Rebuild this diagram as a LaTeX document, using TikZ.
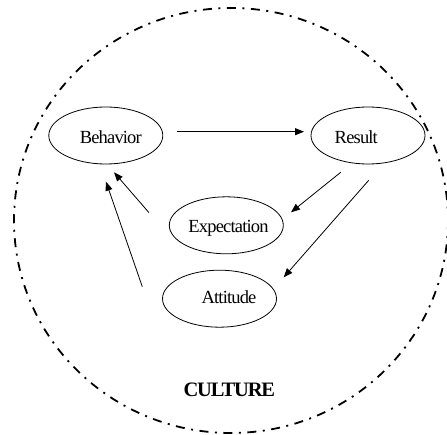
\documentclass[tikz,border=0pt]{standalone}
\usepackage{fontspec}
\setmainfont{Liberation Serif}
\usetikzlibrary{shapes.geometric,arrows.meta,calc}
\begin{document}
\begin{tikzpicture}[x=1bp,y=-1bp,
  ell/.style={draw,ellipse,line width=0.8bp,minimum width=114bp,minimum height=57bp,inner sep=0pt},
  lbl/.style={font=\fontsize{18.5bp}{22bp}\selectfont\addfontfeature{LetterSpace=-4.5},inner sep=0pt},
  arr/.style={line width=0.8bp,-{Triangle[length=9bp,width=7bp]}},
  cult/.style={draw,line width=1.8bp,dash pattern=on 9bp off 6.5bp on 2bp off 6.5bp}]
\useasboundingbox (0,0) rectangle (447,435);
\draw[cult] (231,220.5) ellipse [x radius=217, y radius=212.5];
\node[ell] (beh) at (105.8,135.5) {};
\node[ell] (res) at (368,135.5) {};
\node[ell] (exp) at (226.3,225.3) {};
\node[ell] (att) at (219.5,298.7) {};
\node[lbl] (behl) at ([shift={(5,1.2)}]beh.center) {Behavior};
\node[lbl] (resl) at ([shift={(-11.7,1.2)}]res.center) {Result};
\node[lbl] (expl) at ([shift={(2.2,3)}]exp.center) {Expectation};
\node[lbl] (attl) at ([shift={(9.5,-2)}]att.center) {Attitude};
\node[font=\fontsize{20.5bp}{24bp}\selectfont\bfseries\addfontfeature{LetterSpace=-5.5},inner sep=0pt] (culture) at (229.3,390) {CULTURE};
\draw[arr] ([shift={(70.9,-3.8)}]beh.center) -- ([shift={(-64,-3.8)}]res.center);
\draw[arr] ([shift={(-27.3,36.8)}]res.center) -- ([shift={(64.7,-13)}]exp.center);
\draw[arr] ([shift={(0.7,44.8)}]res.center) -- ([shift={(64.2,-21.4)}]att.center);
\draw[arr] ([shift={(-77.3,-12.6)}]exp.center) -- ([shift={(8.2,36.8)}]beh.center);
\draw[arr] ([shift={(-77.2,-12)}]att.center) -- ([shift={(0.2,46.2)}]beh.center);
\end{tikzpicture}
\end{document}
